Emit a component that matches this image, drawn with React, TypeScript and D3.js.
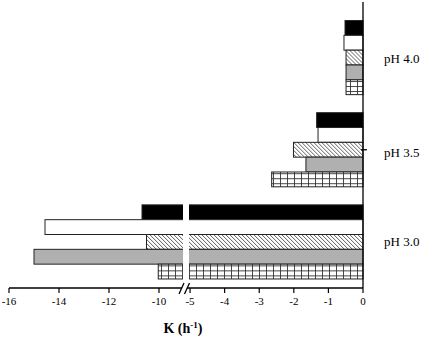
import React from "react";
import * as d3 from "d3";

// groups (top to bottom) and the five treatments in each group
const groups = ["pH 4.0", "pH 3.5", "pH 3.0"];
const series = ["black", "white", "hatch", "gray", "grid"];

// K values (h-1), one array per treatment, in group order
const blackVals = [-0.52, -1.34, -10.68];
const whiteVals = [-0.55, -1.3, -14.56];
const hatchVals = [-0.49, -2.01, -10.5];
const grayVals = [-0.49, -1.65, -15.0];
const gridVals = [-0.49, -2.64, -10.03];

const leftTicks = [-16, -14, -12, -10];
const rightTicks = [-5, -4, -3, -2, -1, 0];

const W = 425;
const H = 337;
const axisY = 288;

const App = () => {
    const valuesBySeries: Record<string, number[]> = {
        black: blackVals,
        white: whiteVals,
        hatch: hatchVals,
        gray: grayVals,
        grid: gridVals,
    };

    // broken x axis: two linear pieces
    const xLeft = d3.scaleLinear().domain([-16, -9.04]).range([9, 183]);
    const xRight = d3.scaleLinear().domain([-5.03, 0]).range([189, 363]);
    const x = (v: number) => (v >= -5.03 ? xRight(v) : xLeft(v));

    const y = d3.scaleBand().domain(groups).range([11.5, 288]).paddingInner(0.196).paddingOuter(0.098);
    const yInner = d3.scaleBand().domain(series).range([0, y.bandwidth()]);

    const fills: Record<string, string> = {
        black: "#000",
        white: "#fff",
        hatch: "url(#hatch)",
        gray: "#b0b0b0",
        grid: "url(#grid)",
    };

    const gapL = xLeft(-9.04);
    const gapR = xRight(-5.03);

    return (
        <svg width={W} height={H} style={{ position: "absolute", left: 0, top: 0 }}>
            <defs>
                <pattern id="hatch" patternUnits="userSpaceOnUse" width={4} height={4}>
                    <rect width={4} height={4} fill="#fff" />
                    <path d="M-1,-1 L5,5 M-1,3 L1,5 M3,-1 L5,1" stroke="#333" strokeWidth={0.8} />
                </pattern>
                <pattern id="grid" patternUnits="userSpaceOnUse" width={7} height={5} y={0.5}>
                    <rect width={7} height={5} fill="#fff" />
                    <path d="M0.5,0 L0.5,5 M0,0.5 L7,0.5" stroke="#333" strokeWidth={0.9} />
                </pattern>
            </defs>

            {/* bars */}
            {groups.map((g, gi) => (
                <g key={g} transform={`translate(0,${y(g)})`}>
                    {series.map((s) => {
                        const v = valuesBySeries[s][gi];
                        return (
                            <rect
                                key={s}
                                x={x(v)}
                                y={yInner(s)}
                                width={x(0) - x(v)}
                                height={yInner.bandwidth()}
                                fill={fills[s]}
                                stroke="#222"
                                strokeWidth={1}
                            />
                        );
                    })}
                </g>
            ))}

            {/* gap through the bars at the axis break */}
            <rect
                x={gapL}
                y={(y("pH 3.0") as number) - 2}
                width={gapR - gapL}
                height={y.bandwidth() + 4}
                fill="#fff"
            />

            {/* group labels */}
            {groups.map((g, i) => (
                <text
                    key={g}
                    x={384}
                    y={(y(g) as number) + y.bandwidth() / 2 + [1, 3, 0][i]}
                    dominantBaseline="central"
                    fontFamily="'Liberation Serif', 'Times New Roman', serif"
                    fontSize={13}
                >
                    {g}
                </text>
            ))}

            {/* y axis */}
            <line x1={x(0)} x2={x(0)} y1={2} y2={axisY} stroke="#000" strokeWidth={1.3} />
            <line
                x1={x(0) - 2}
                x2={x(0) + 4}
                y1={(y("pH 3.5") as number) + y.bandwidth() / 2}
                y2={(y("pH 3.5") as number) + y.bandwidth() / 2}
                stroke="#000"
                strokeWidth={1.3}
            />

            {/* x axis, two segments */}
            <line x1={xLeft(-16)} x2={gapL - 1} y1={axisY} y2={axisY} stroke="#000" strokeWidth={1.3} />
            <line x1={gapR - 2} x2={xRight(0)} y1={axisY} y2={axisY} stroke="#000" strokeWidth={1.3} />
            <line x1={gapL - 4} y1={axisY + 6} x2={gapL + 1} y2={axisY - 5} stroke="#000" strokeWidth={1.3} />
            <line x1={gapL + 1.5} y1={axisY + 6} x2={gapL + 6.5} y2={axisY - 5} stroke="#000" strokeWidth={1.3} />

            {leftTicks.map((t) => (
                <g key={t} transform={`translate(${xLeft(t)},${axisY})`}>
                    <line y2={5} stroke="#000" strokeWidth={1.2} />
                    <text y={17} textAnchor="middle" fontFamily="'Liberation Serif', 'Times New Roman', serif" fontSize={11}>
                        {t}
                    </text>
                </g>
            ))}
            {rightTicks.map((t) => (
                <g key={t} transform={`translate(${xRight(t)},${axisY})`}>
                    <line y2={5} stroke="#000" strokeWidth={1.2} />
                    <text y={17} textAnchor="middle" fontFamily="'Liberation Serif', 'Times New Roman', serif" fontSize={11}>
                        {t}
                    </text>
                </g>
            ))}

            {/* axis title */}
            <text
                x={183}
                y={333}
                textAnchor="middle"
                fontFamily="'Liberation Serif', 'Times New Roman', serif"
                fontWeight="bold"
                fontSize={14}
            >
                K (h
                <tspan dy={-5} fontSize={9}>-1</tspan>
                <tspan dy={5}>)</tspan>
            </text>
        </svg>
    );
};

export default App;
